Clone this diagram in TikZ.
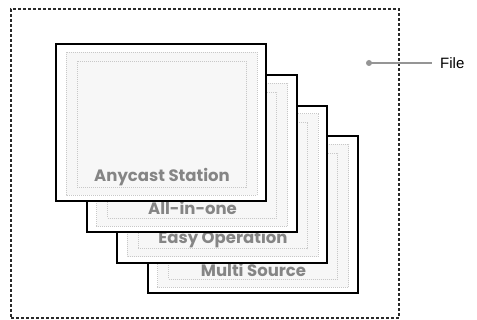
\documentclass[tikz,border=0pt]{standalone}
\usepackage{fontspec}
\setmainfont{Liberation Sans}
\newfontfamily\cardfont{Poppins}
\definecolor{framegray}{HTML}{2A2A2A}
\definecolor{dotgray}{HTML}{C8C8C8}
\definecolor{innerfill}{HTML}{F7F7F7}
\definecolor{cardtext}{HTML}{858585}
\definecolor{pointer}{HTML}{959595}
\tikzset{
  cardbox/.style={draw=black, line width=2pt, fill=white, rectangle, inner sep=0pt, minimum width=210pt, minimum height=157pt},
  innerbox/.style={draw=dotgray, line width=0.8pt, dash pattern=on 1pt off 1pt},
  cardlabel/.style={font=\cardfont\bfseries\fontsize{16.5}{18}\selectfont, text=cardtext, inner sep=0pt},
  framebox/.style={draw=framegray, line width=2.2pt, dash pattern=on 2.6pt off 2.4pt, rectangle, inner sep=0pt, minimum width=388pt, minimum height=309pt},
  pointerline/.style={draw=pointer, line width=2pt},
  filelabel/.style={font=\fontsize{15}{17}\selectfont, text=black, inner sep=0pt, anchor=west}
}
\newcommand\mycard[4]{%
  % #1 name, #2 left, #3 top, #4 text
  \node[cardbox] (#1) at ({#2+105},{#3+78.5}) {};
  \fill[innerfill] ({#2+10},{#3+8}) rectangle ({#2+201},{#3+151});
  \draw[innerbox] ({#2+10},{#3+8}) rectangle ({#2+201},{#3+151});
  \draw[innerbox] ({#2+21},{#3+17}) rectangle ({#2+190},{#3+143});
  \node[cardlabel] (#1-text) at ({#2+106},{#3+133}) {#4};
}
\begin{document}
\begin{tikzpicture}[x=1pt,y=-1pt]
\useasboundingbox (0,0) rectangle (477,320);
\node[framebox] (frame) at (205,163.5) {};
\mycard{c4}{147.5}{136.5}{Multi Source}
\mycard{c3}{117}{105.7}{Easy Operation}
\mycard{c2}{86.5}{75}{All-in-one}
\mycard{c1}{56}{44.5}{Anycast Station}
\coordinate (dot) at (369,63);
\node[filelabel] (file) at (440,63) {File};
\draw[pointerline] (dot) -- ([xshift=-8pt]file.west);
\fill[pointer] (dot) circle (3pt);
\end{tikzpicture}
\end{document}
